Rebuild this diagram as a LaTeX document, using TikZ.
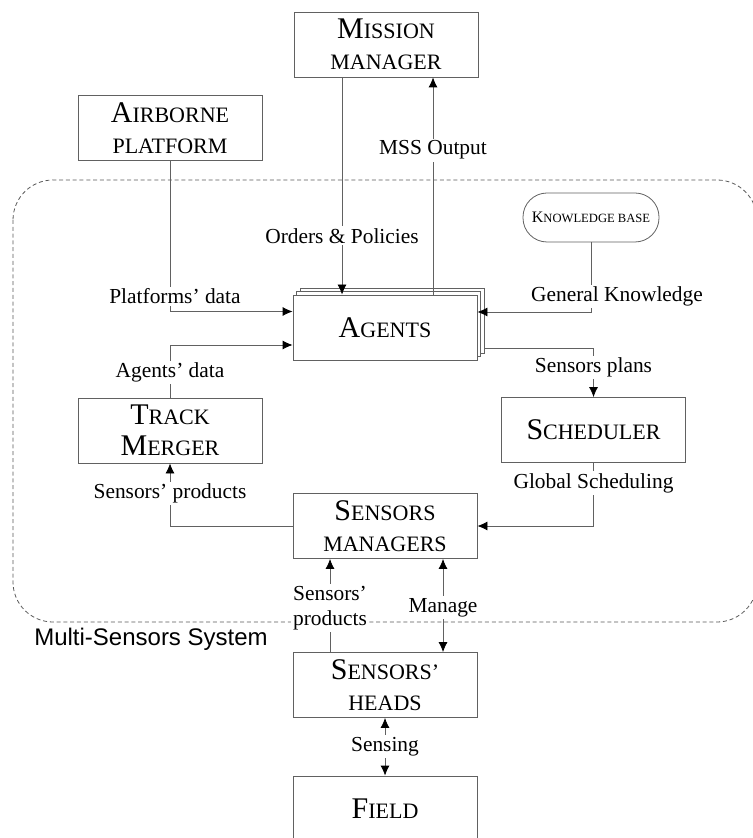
\documentclass[tikz,border=0pt]{standalone}
\usepackage{fontspec}
\setmainfont{Liberation Serif}
\newfontfamily\captionSans{Liberation Sans}
\usetikzlibrary{arrows.meta,shadows}
\definecolor{lineGray}{rgb}{0.38,0.38,0.38}
\newcommand{\bigCap}[2]{{\fontsize{15}{15.5}\selectfont #1}{\fontsize{11}{15.5}\selectfont #2}}
\newcommand{\smallCap}[1]{{\fontsize{11}{15.5}\selectfont #1}}

\begin{document}
\begin{tikzpicture}[x=0.5pt,y=-0.5pt,
    block/.style={draw=lineGray, fill=white, minimum width=92pt, minimum height=32.5pt,
        inner sep=0pt, align=center, font=\fontsize{11}{15.5}\selectfont},
    lbl/.style={fill=white, inner sep=1pt, align=center, font=\fontsize{10.7}{12.5}\selectfont},
    conn/.style={draw=lineGray, -{Latex[black,length=5pt,width=4.5pt]}},
    connTwo/.style={draw=lineGray, {Latex[black,length=5pt,width=4.5pt]}-{Latex[black,length=5pt,width=4.5pt]}}]

    \useasboundingbox (0,0) rectangle (752,838);

    % multi-sensors system frame
    \draw[black!65, dash pattern=on 2pt off 1.4pt, rounded corners=20pt] (13,180) rectangle (757,622);
    \node[font=\captionSans\fontsize{12}{14}\selectfont] (mss) at (151,639) {Multi-Sensors System};

    % boxes
    \node[block] (mission) at (386,44.5) {\bigCap{M}{ISSION}\\\smallCap{MANAGER}};
    \node[block] (airborne) at (170,128) {\bigCap{A}{IRBORNE}\\\smallCap{PLATFORM}};
    \node[block, copy shadow={shadow xshift=3.5pt, shadow yshift=3.5pt, draw=lineGray},
        copy shadow={shadow xshift=1.75pt, shadow yshift=1.75pt, draw=lineGray}] (agents) at (385,327.5) {\bigCap{A}{GENTS}};
    \node[draw=lineGray, fill=white, rounded corners=12pt, minimum width=68pt, minimum height=24.5pt, inner sep=0pt]
        (kb) at (591,217.5) {{\fontsize{8}{8}\selectfont K}{\fontsize{6.3}{8}\selectfont NOWLEDGE BASE}};
    \node[block] (merger) at (170,430.5) {\bigCap{T}{RACK}\\\bigCap{M}{ERGER}};
    \node[block] (scheduler) at (593.5,430) {\bigCap{S}{CHEDULER}};
    \node[block] (sensman) at (385,526) {\bigCap{S}{ENSORS}\\\smallCap{MANAGERS}};
    \node[block] (heads) at (385,685) {\bigCap{S}{ENSORS'}\\\smallCap{HEADS}};
    \node[block] (field) at (385,808.5) {\bigCap{F}{IELD}};

    % mission links
    \draw[conn] ([xshift=-22pt]mission.south) -- ([xshift=-22pt]mission.south |- agents.north)
        node[lbl, pos=0.73] {Orders \& Policies};
    \draw[conn] ([xshift=24pt]agents.north) -- ([xshift=24pt]agents.north |- mission.south)
        node[lbl, pos=0.665] {MSS Output};

    % inputs of the agents
    \draw[conn] (airborne.south) |- ([yshift=8pt]agents.west)
        node[lbl, pos=0.45, xshift=2.5pt] {Platforms' data};
    \draw[conn] (merger.north) |- ([yshift=-8.75pt]agents.west)
        node[lbl, pos=0.24] {Agents' data};
    \draw[conn] (kb.south) |- ([yshift=7.75pt]agents.east)
        node[lbl, pos=0.39, xshift=13pt] {General Knowledge};

    % planning
    \draw[conn] ([xshift=3.5pt,yshift=-10.25pt]agents.east) -| (scheduler.north)
        node[lbl, pos=0.7] {Sensors plans};
    \draw[conn] (scheduler.south) |- (sensman.east)
        node[lbl, pos=0.16] {Global Scheduling};
    \draw[conn] (sensman.west) -| (merger.south)
        node[lbl, pos=0.76] {Sensors' products};

    % sensors
    \draw[conn] ([xshift=-27.5pt]heads.north) -- ([xshift=-27.5pt]sensman.south)
        node[lbl, pos=0.47] {Sensors'\\products};
    \draw[connTwo] ([xshift=29pt]sensman.south) -- ([xshift=29pt]heads.north)
        node[lbl, pos=0.52] {Manage};
    \draw[connTwo] (heads.south) -- (field.north)
        node[lbl, pos=0.5] {Sensing};

\end{tikzpicture}
\end{document}
